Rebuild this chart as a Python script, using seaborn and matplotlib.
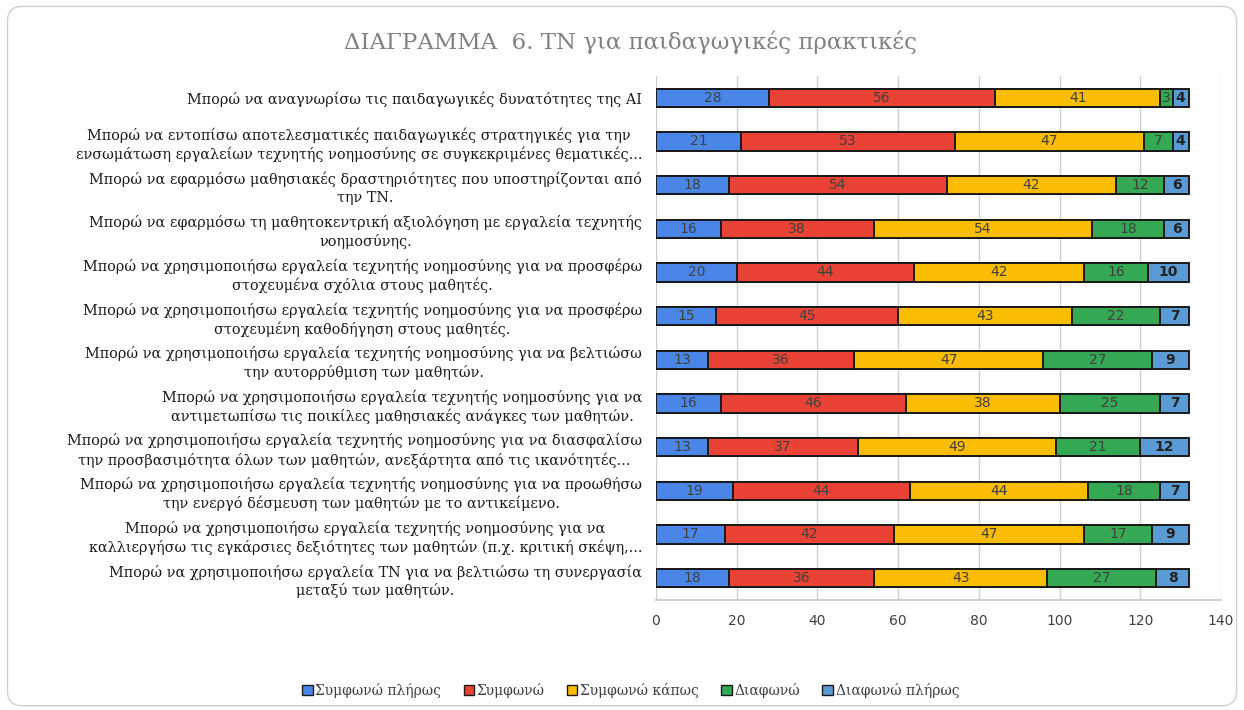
import numpy as np
import pandas as pd
import seaborn as sns
import matplotlib
matplotlib.use("Agg")
import matplotlib.pyplot as plt
from matplotlib.patches import FancyBboxPatch, Patch

categories = [
    "Μπορώ να αναγνωρίσω τις παιδαγωγικές δυνατότητες της AI",
    "Μπορώ να εντοπίσω αποτελεσματικές παιδαγωγικές στρατηγικές για την\nενσωμάτωση εργαλείων τεχνητής νοημοσύνης σε συγκεκριμένες θεματικές...",
    "Μπορώ να εφαρμόσω μαθησιακές δραστηριότητες που υποστηρίζονται από\nτην ΤΝ.",
    "Μπορώ να εφαρμόσω τη μαθητοκεντρική αξιολόγηση με εργαλεία τεχνητής\nνοημοσύνης.",
    "Μπορώ να χρησιμοποιήσω εργαλεία τεχνητής νοημοσύνης για να προσφέρω\nστοχευμένα σχόλια στους μαθητές.",
    "Μπορώ να χρησιμοποιήσω εργαλεία τεχνητής νοημοσύνης για να προσφέρω\nστοχευμένη καθοδήγηση στους μαθητές.",
    "Μπορώ να χρησιμοποιήσω εργαλεία τεχνητής νοημοσύνης για να βελτιώσω\nτην αυτορρύθμιση των μαθητών.",
    "Μπορώ να χρησιμοποιήσω εργαλεία τεχνητής νοημοσύνης για να\nαντιμετωπίσω τις ποικίλες μαθησιακές ανάγκες των μαθητών.",
    "Μπορώ να χρησιμοποιήσω εργαλεία τεχνητής νοημοσύνης για να διασφαλίσω\nτην προσβασιμότητα όλων των μαθητών, ανεξάρτητα από τις ικανότητές...",
    "Μπορώ να χρησιμοποιήσω εργαλεία τεχνητής νοημοσύνης για να προωθήσω\nτην ενεργό δέσμευση των μαθητών με το αντικείμενο.",
    "Μπορώ να χρησιμοποιήσω εργαλεία τεχνητής νοημοσύνης για να\nκαλλιεργήσω τις εγκάρσιες δεξιότητες των μαθητών (π.χ. κριτική σκέψη,...",
    "Μπορώ να χρησιμοποιήσω εργαλεία ΤΝ για να βελτιώσω τη συνεργασία\nμεταξύ των μαθητών.",
]

series_names = ["Συμφωνώ πλήρως", "Συμφωνώ", "Συμφωνώ κάπως", "Διαφωνώ", "Διαφωνώ πλήρως"]
agree_fully    = [28, 21, 18, 16, 20, 15, 13, 16, 13, 19, 17, 18]
agree          = [56, 53, 54, 38, 44, 45, 36, 46, 37, 44, 42, 36]
agree_somewhat = [41, 47, 42, 54, 42, 43, 47, 38, 49, 44, 47, 43]
disagree       = [3, 7, 12, 18, 16, 22, 27, 25, 21, 18, 17, 27]
disagree_fully = [4, 4, 6, 6, 10, 7, 9, 7, 12, 7, 9, 8]

colors = ["#4a86e8", "#ea4335", "#fbbc04", "#34a853", "#5b9bd5"]

sns.set_theme(style="white")
plt.rcParams['font.family'] = ['DejaVu Serif']

fig = plt.figure(figsize=(12.44, 7.10), dpi=100)
ax = fig.add_axes([0.5273, 0.155, 0.4542, 0.738])

vals = np.array([agree_fully, agree, agree_somewhat, disagree, disagree_fully], dtype=float)
cum = np.cumsum(vals, axis=0)

df = pd.DataFrame({"cat": categories})
# draw cumulative bars from the longest to the shortest
for i in range(4, -1, -1):
    d = df.copy()
    d["v"] = cum[i]
    sns.barplot(data=d, x="v", y="cat", orient="h", color=colors[i], width=0.42,
                edgecolor="#1a1a1a", linewidth=1.4, ax=ax, saturation=1)

starts = cum - vals
for i in range(5):
    for j in range(len(categories)):
        ax.text(starts[i, j] + vals[i, j] / 2, j, f"{int(vals[i, j])}",
                ha="center", va="center", fontsize=10,
                color="#222222" if i == 4 else "#404040",
                fontweight="bold" if i == 4 else "normal",
                family="DejaVu Sans")

ax.set_xlim(0, 140)
ax.set_ylim(11.5, -0.5)
ax.set_xticks(np.arange(0, 141, 20))
ax.set_xlabel("")
ax.set_ylabel("")
ax.grid(axis="x", color="#d0d0d0", linewidth=1)
ax.set_axisbelow(True)
for s in ["top", "right", "left"]:
    ax.spines[s].set_visible(False)
ax.spines["bottom"].set_color("#c8c8c8")
ax.tick_params(axis="x", length=0, pad=10, labelsize=10, labelcolor="#404040")
for t in ax.get_xticklabels():
    t.set_family("DejaVu Sans")
ax.tick_params(axis="y", length=0, pad=10)
ax.set_yticks(range(len(categories)))
ax.set_yticklabels(categories, fontsize=10.4, color="#1a1a1a", multialignment="center",
                   linespacing=1.3)

fig.text(0.507, 0.94, "ΔΙΑΓΡΑΜΜΑ  6. ΤΝ για παιδαγωγικές πρακτικές", ha="center", va="center",
         fontsize=16.5, color="#808080")

handles = [Patch(facecolor=c, edgecolor="#1a1a1a", linewidth=1) for c in colors]
fig.legend(handles, series_names, loc="center", bbox_to_anchor=(0.507, 0.028), ncol=5,
           frameon=False, fontsize=10, handlelength=0.75, handleheight=0.75,
           handletextpad=0.2, columnspacing=1.6, labelcolor="#404040")

border = FancyBboxPatch((0.006, 0.006), 0.988, 0.985, boxstyle="round,pad=0,rounding_size=0.012",
                        transform=fig.transFigure, facecolor="none", edgecolor="#d0d0d0",
                        linewidth=1, mutation_aspect=1.75)
fig.patches.append(border)

fig.savefig("out.png", dpi=100)
